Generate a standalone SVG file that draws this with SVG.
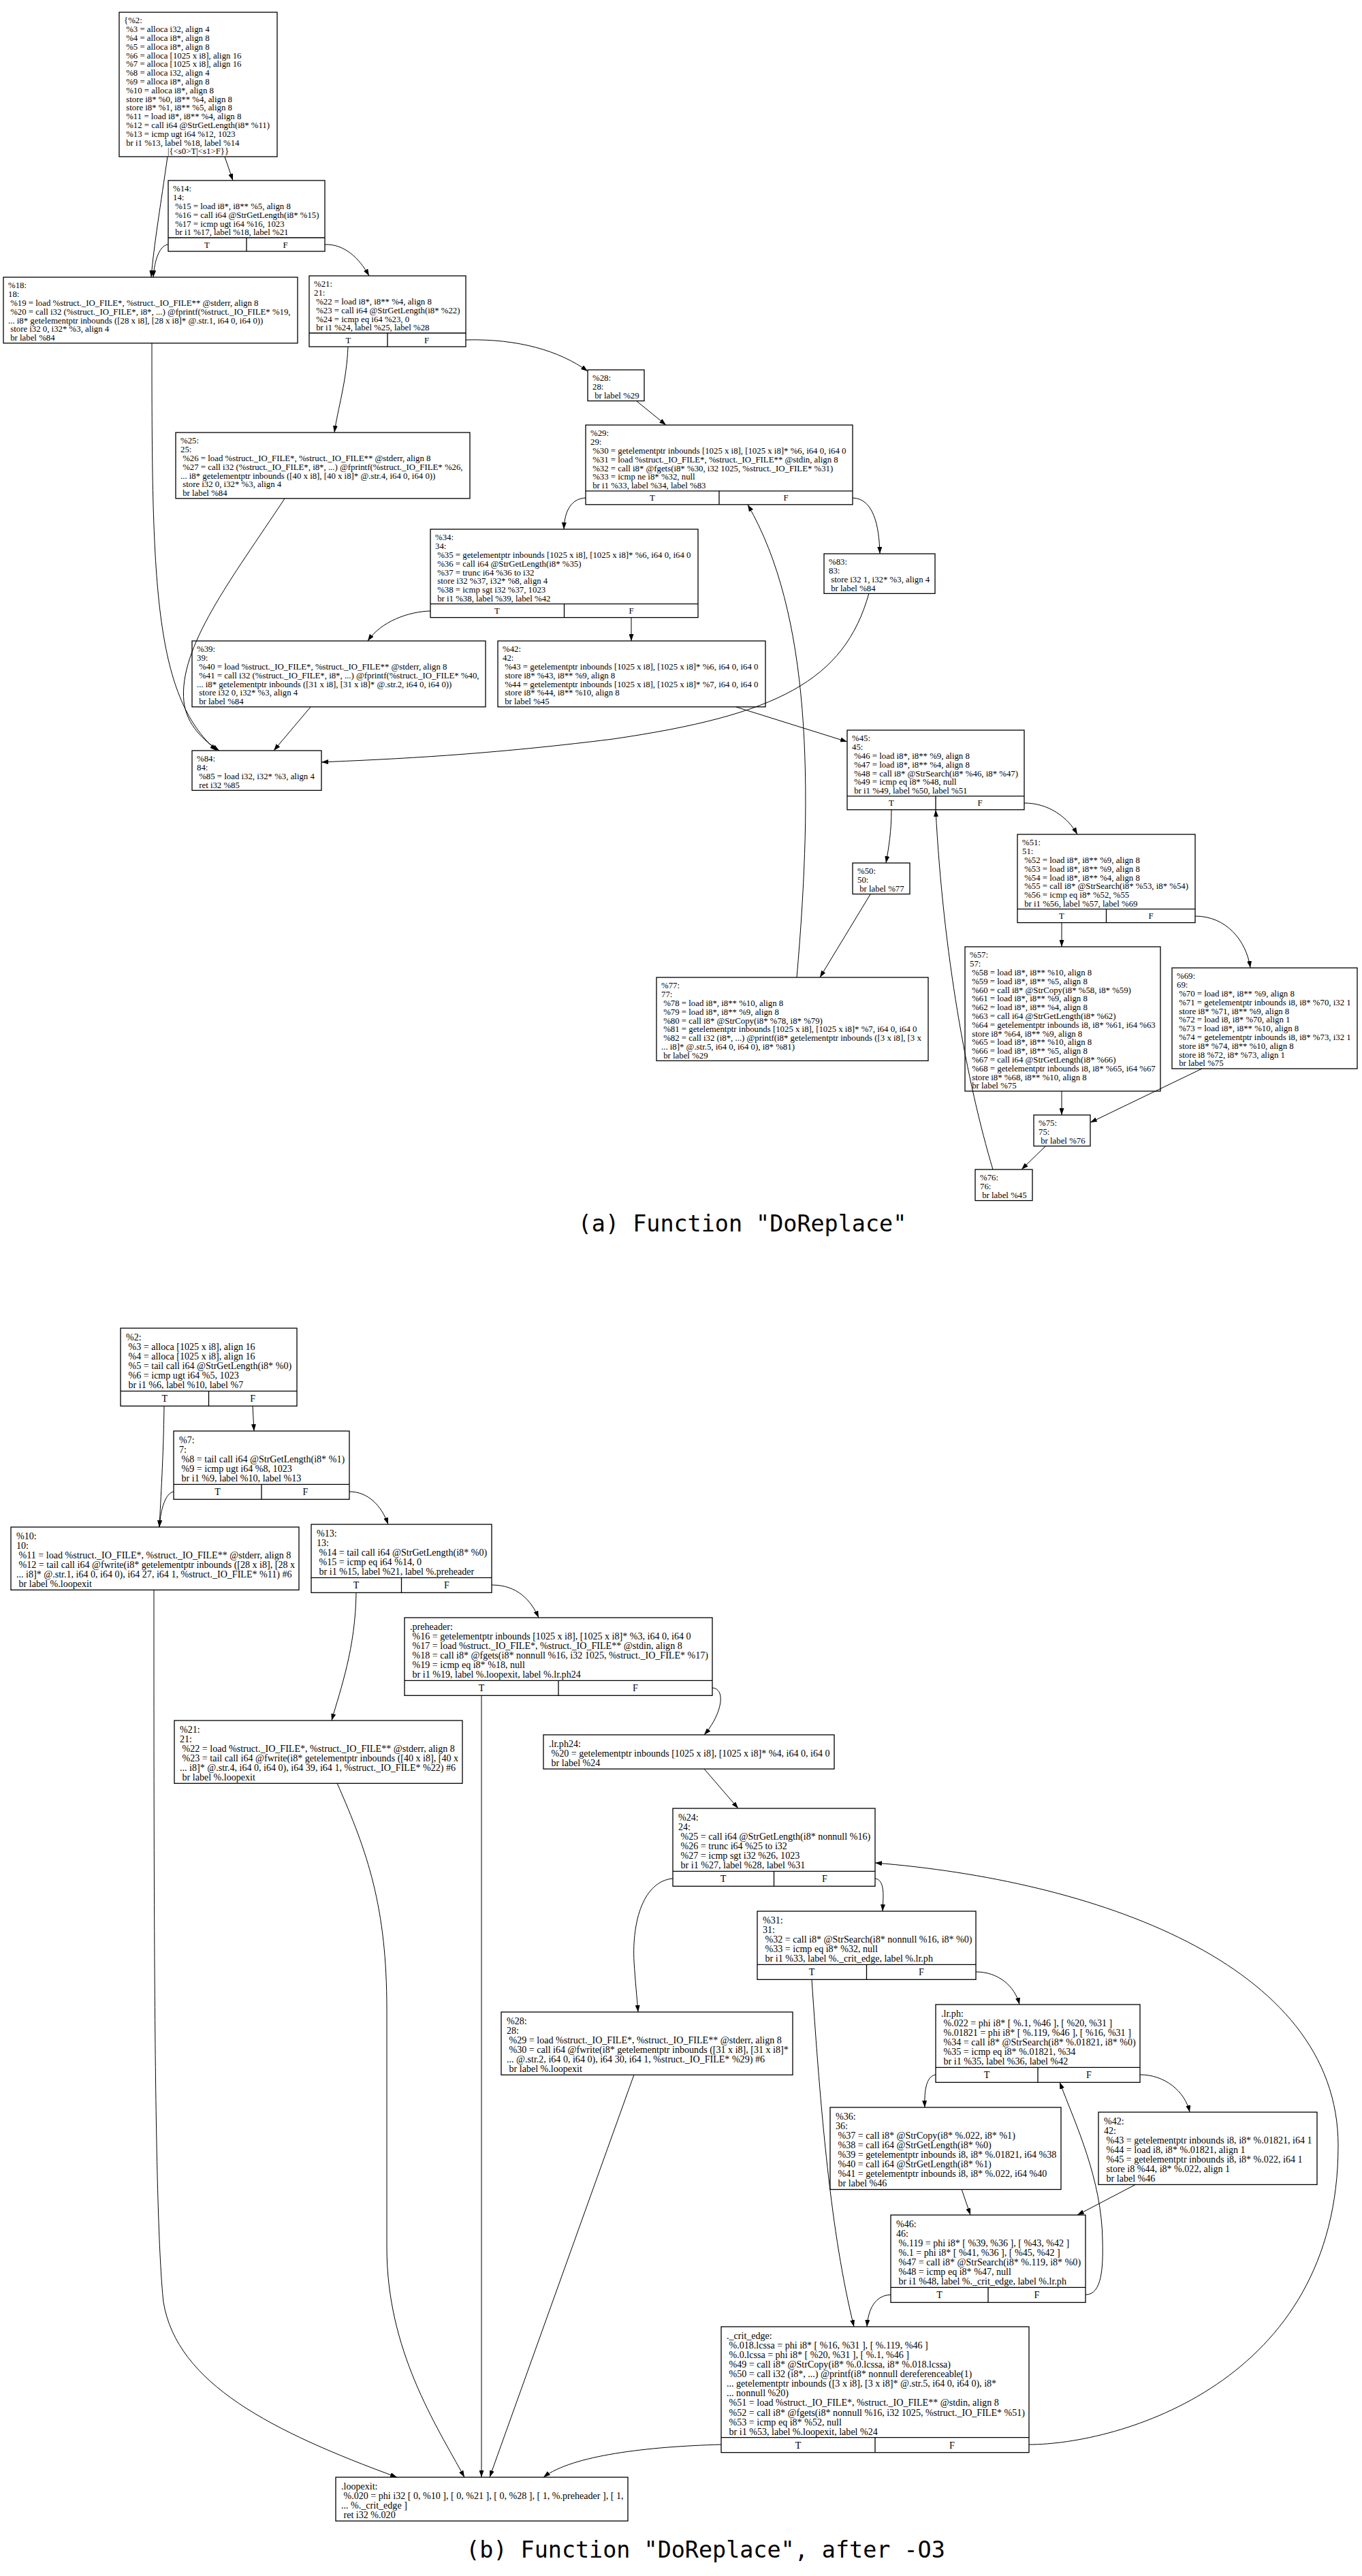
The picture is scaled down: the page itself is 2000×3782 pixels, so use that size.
<svg xmlns="http://www.w3.org/2000/svg" width="2000" height="3782" viewBox="0 0 2000 3782">
<defs>
<style>
.box rect{fill:none;stroke:#000;stroke-width:1.3}
.box line{stroke:#000;stroke-width:1.3}
.ta{font-family:"Liberation Serif","Times New Roman",serif;font-size:12.8px;white-space:pre;fill:#000}
.tb{font-family:"Liberation Serif","Times New Roman",serif;font-size:14.07px;white-space:pre;fill:#000}
.c{text-anchor:middle}
.edges path{fill:none;stroke:#000;stroke-width:1;marker-end:url(#ah)}
.cap{font-family:"DejaVu Sans Mono",monospace;font-size:33.4px;text-anchor:middle;fill:#000}
</style>
<marker id="ah" markerUnits="userSpaceOnUse" markerWidth="10" markerHeight="7" refX="10" refY="3.5" orient="auto" viewBox="0 0 10 7"><path d="M0,0L10,3.5L0,7z" fill="#000"/></marker>
</defs>
<rect width="2000" height="3782" fill="#fff"/>

<g id="graph-a-nodes" class="box">
<g id="a-n2"><rect x="175" y="18" width="232" height="212"/><text class="ta"><tspan x="182" y="34.3">{%2:</tspan><tspan x="182" y="47.1"> %3 = alloca i32, align 4</tspan><tspan x="182" y="59.9"> %4 = alloca i8*, align 8</tspan><tspan x="182" y="72.7"> %5 = alloca i8*, align 8</tspan><tspan x="182" y="85.5"> %6 = alloca [1025 x i8], align 16</tspan><tspan x="182" y="98.3"> %7 = alloca [1025 x i8], align 16</tspan><tspan x="182" y="111.1"> %8 = alloca i32, align 4</tspan><tspan x="182" y="123.9"> %9 = alloca i8*, align 8</tspan><tspan x="182" y="136.7"> %10 = alloca i8*, align 8</tspan><tspan x="182" y="149.5"> store i8* %0, i8** %4, align 8</tspan><tspan x="182" y="162.3"> store i8* %1, i8** %5, align 8</tspan><tspan x="182" y="175.1"> %11 = load i8*, i8** %4, align 8</tspan><tspan x="182" y="187.9"> %12 = call i64 @StrGetLength(i8* %11)</tspan><tspan x="182" y="200.7"> %13 = icmp ugt i64 %12, 1023</tspan><tspan x="182" y="213.5"> br i1 %13, label %18, label %14</tspan><tspan x="291" y="226.3" text-anchor="middle">|{&lt;s0&gt;T|&lt;s1&gt;F}}</tspan></text></g>

<g id="a-n14"><rect x="247" y="265" width="230" height="104"/><line x1="247" y1="349" x2="477" y2="349"/><line x1="362" y1="349" x2="362" y2="369"/><text class="ta"><tspan x="254" y="281.3">%14:</tspan><tspan x="254" y="294.1">14:</tspan><tspan x="254" y="306.9"> %15 = load i8*, i8** %5, align 8</tspan><tspan x="254" y="319.7"> %16 = call i64 @StrGetLength(i8* %15)</tspan><tspan x="254" y="332.5"> %17 = icmp ugt i64 %16, 1023</tspan><tspan x="254" y="345.3"> br i1 %17, label %18, label %21</tspan></text><text class="ta c"><tspan x="304" y="363.5">T</tspan><tspan x="419" y="363.5">F</tspan></text></g>

<g id="a-n18"><rect x="5" y="407" width="432" height="96.8"/><text class="ta"><tspan x="12" y="423.3">%18:</tspan><tspan x="12" y="436.1">18:</tspan><tspan x="12" y="448.9"> %19 = load %struct._IO_FILE*, %struct._IO_FILE** @stderr, align 8</tspan><tspan x="12" y="461.7"> %20 = call i32 (%struct._IO_FILE*, i8*, ...) @fprintf(%struct._IO_FILE* %19,</tspan><tspan x="12" y="474.5">... i8* getelementptr inbounds ([28 x i8], [28 x i8]* @.str.1, i64 0, i64 0))</tspan><tspan x="12" y="487.3"> store i32 0, i32* %3, align 4</tspan><tspan x="12" y="500.1"> br label %84</tspan></text></g>

<g id="a-n21"><rect x="454" y="405" width="230" height="104"/><line x1="454" y1="489" x2="684" y2="489"/><line x1="569" y1="489" x2="569" y2="509"/><text class="ta"><tspan x="461" y="421.3">%21:</tspan><tspan x="461" y="434.1">21:</tspan><tspan x="461" y="446.9"> %22 = load i8*, i8** %4, align 8</tspan><tspan x="461" y="459.7"> %23 = call i64 @StrGetLength(i8* %22)</tspan><tspan x="461" y="472.5"> %24 = icmp eq i64 %23, 0</tspan><tspan x="461" y="485.3"> br i1 %24, label %25, label %28</tspan></text><text class="ta c"><tspan x="511.5" y="503.5">T</tspan><tspan x="626.5" y="503.5">F</tspan></text></g>

<g id="a-n28"><rect x="863" y="543" width="83" height="45.6"/><text class="ta"><tspan x="870" y="559.3">%28:</tspan><tspan x="870" y="572.1">28:</tspan><tspan x="870" y="584.9"> br label %29</tspan></text></g>

<g id="a-n25"><rect x="258" y="635" width="432" height="96.8"/><text class="ta"><tspan x="265" y="651.3">%25:</tspan><tspan x="265" y="664.1">25:</tspan><tspan x="265" y="676.9"> %26 = load %struct._IO_FILE*, %struct._IO_FILE** @stderr, align 8</tspan><tspan x="265" y="689.7"> %27 = call i32 (%struct._IO_FILE*, i8*, ...) @fprintf(%struct._IO_FILE* %26,</tspan><tspan x="265" y="702.5">... i8* getelementptr inbounds ([40 x i8], [40 x i8]* @.str.4, i64 0, i64 0))</tspan><tspan x="265" y="715.3"> store i32 0, i32* %3, align 4</tspan><tspan x="265" y="728.1"> br label %84</tspan></text></g>

<g id="a-n29"><rect x="860" y="624" width="392" height="116.8"/><line x1="860" y1="720.8" x2="1252" y2="720.8"/><line x1="1056" y1="720.8" x2="1056" y2="740.8"/><text class="ta"><tspan x="867" y="640.3">%29:</tspan><tspan x="867" y="653.1">29:</tspan><tspan x="867" y="665.9"> %30 = getelementptr inbounds [1025 x i8], [1025 x i8]* %6, i64 0, i64 0</tspan><tspan x="867" y="678.7"> %31 = load %struct._IO_FILE*, %struct._IO_FILE** @stdin, align 8</tspan><tspan x="867" y="691.5"> %32 = call i8* @fgets(i8* %30, i32 1025, %struct._IO_FILE* %31)</tspan><tspan x="867" y="704.3"> %33 = icmp ne i8* %32, null</tspan><tspan x="867" y="717.1"> br i1 %33, label %34, label %83</tspan></text><text class="ta c"><tspan x="958" y="735.3">T</tspan><tspan x="1154" y="735.3">F</tspan></text></g>

<g id="a-n34"><rect x="632" y="777" width="393" height="129.6"/><line x1="632" y1="886.6" x2="1025" y2="886.6"/><line x1="828.5" y1="886.6" x2="828.5" y2="906.6"/><text class="ta"><tspan x="639" y="793.3">%34:</tspan><tspan x="639" y="806.1">34:</tspan><tspan x="639" y="818.9"> %35 = getelementptr inbounds [1025 x i8], [1025 x i8]* %6, i64 0, i64 0</tspan><tspan x="639" y="831.7"> %36 = call i64 @StrGetLength(i8* %35)</tspan><tspan x="639" y="844.5"> %37 = trunc i64 %36 to i32</tspan><tspan x="639" y="857.3"> store i32 %37, i32* %8, align 4</tspan><tspan x="639" y="870.1"> %38 = icmp sgt i32 %37, 1023</tspan><tspan x="639" y="882.9"> br i1 %38, label %39, label %42</tspan></text><text class="ta c"><tspan x="730" y="901.1">T</tspan><tspan x="927" y="901.1">F</tspan></text></g>

<g id="a-n83"><rect x="1210" y="813" width="163" height="58.4"/><text class="ta"><tspan x="1217" y="829.3">%83:</tspan><tspan x="1217" y="842.1">83:</tspan><tspan x="1217" y="854.9"> store i32 1, i32* %3, align 4</tspan><tspan x="1217" y="867.7"> br label %84</tspan></text></g>

<g id="a-n39"><rect x="282" y="941" width="431" height="96.8"/><text class="ta"><tspan x="289" y="957.3">%39:</tspan><tspan x="289" y="970.1">39:</tspan><tspan x="289" y="982.9"> %40 = load %struct._IO_FILE*, %struct._IO_FILE** @stderr, align 8</tspan><tspan x="289" y="995.7"> %41 = call i32 (%struct._IO_FILE*, i8*, ...) @fprintf(%struct._IO_FILE* %40,</tspan><tspan x="289" y="1008.5">... i8* getelementptr inbounds ([31 x i8], [31 x i8]* @.str.2, i64 0, i64 0))</tspan><tspan x="289" y="1021.3"> store i32 0, i32* %3, align 4</tspan><tspan x="289" y="1034.1"> br label %84</tspan></text></g>

<g id="a-n42"><rect x="731" y="941" width="393" height="96.8"/><text class="ta"><tspan x="738" y="957.3">%42:</tspan><tspan x="738" y="970.1">42:</tspan><tspan x="738" y="982.9"> %43 = getelementptr inbounds [1025 x i8], [1025 x i8]* %6, i64 0, i64 0</tspan><tspan x="738" y="995.7"> store i8* %43, i8** %9, align 8</tspan><tspan x="738" y="1008.5"> %44 = getelementptr inbounds [1025 x i8], [1025 x i8]* %7, i64 0, i64 0</tspan><tspan x="738" y="1021.3"> store i8* %44, i8** %10, align 8</tspan><tspan x="738" y="1034.1"> br label %45</tspan></text></g>

<g id="a-n84"><rect x="282" y="1102" width="190" height="58.4"/><text class="ta"><tspan x="289" y="1118.3">%84:</tspan><tspan x="289" y="1131.1">84:</tspan><tspan x="289" y="1143.9"> %85 = load i32, i32* %3, align 4</tspan><tspan x="289" y="1156.7"> ret i32 %85</tspan></text></g>

<g id="a-n45"><rect x="1244" y="1072" width="260" height="116.8"/><line x1="1244" y1="1168.8" x2="1504" y2="1168.8"/><line x1="1374" y1="1168.8" x2="1374" y2="1188.8"/><text class="ta"><tspan x="1251" y="1088.3">%45:</tspan><tspan x="1251" y="1101.1">45:</tspan><tspan x="1251" y="1113.9"> %46 = load i8*, i8** %9, align 8</tspan><tspan x="1251" y="1126.7"> %47 = load i8*, i8** %4, align 8</tspan><tspan x="1251" y="1139.5"> %48 = call i8* @StrSearch(i8* %46, i8* %47)</tspan><tspan x="1251" y="1152.3"> %49 = icmp eq i8* %48, null</tspan><tspan x="1251" y="1165.1"> br i1 %49, label %50, label %51</tspan></text><text class="ta c"><tspan x="1309" y="1183.3">T</tspan><tspan x="1439" y="1183.3">F</tspan></text></g>

<g id="a-n50"><rect x="1252" y="1267" width="84" height="45.6"/><text class="ta"><tspan x="1259" y="1283.3">%50:</tspan><tspan x="1259" y="1296.1">50:</tspan><tspan x="1259" y="1308.9"> br label %77</tspan></text></g>

<g id="a-n51"><rect x="1494" y="1225" width="261" height="129.6"/><line x1="1494" y1="1334.6" x2="1755" y2="1334.6"/><line x1="1624.5" y1="1334.6" x2="1624.5" y2="1354.6"/><text class="ta"><tspan x="1501" y="1241.3">%51:</tspan><tspan x="1501" y="1254.1">51:</tspan><tspan x="1501" y="1266.9"> %52 = load i8*, i8** %9, align 8</tspan><tspan x="1501" y="1279.7"> %53 = load i8*, i8** %9, align 8</tspan><tspan x="1501" y="1292.5"> %54 = load i8*, i8** %4, align 8</tspan><tspan x="1501" y="1305.3"> %55 = call i8* @StrSearch(i8* %53, i8* %54)</tspan><tspan x="1501" y="1318.1"> %56 = icmp eq i8* %52, %55</tspan><tspan x="1501" y="1330.9"> br i1 %56, label %57, label %69</tspan></text><text class="ta c"><tspan x="1559" y="1349.1">T</tspan><tspan x="1690" y="1349.1">F</tspan></text></g>

<g id="a-n77"><rect x="964" y="1435" width="399" height="122.4"/><text class="ta"><tspan x="971" y="1451.3">%77:</tspan><tspan x="971" y="1464.1">77:</tspan><tspan x="971" y="1476.9"> %78 = load i8*, i8** %10, align 8</tspan><tspan x="971" y="1489.7"> %79 = load i8*, i8** %9, align 8</tspan><tspan x="971" y="1502.5"> %80 = call i8* @StrCopy(i8* %78, i8* %79)</tspan><tspan x="971" y="1515.3"> %81 = getelementptr inbounds [1025 x i8], [1025 x i8]* %7, i64 0, i64 0</tspan><tspan x="971" y="1528.1"> %82 = call i32 (i8*, ...) @printf(i8* getelementptr inbounds ([3 x i8], [3 x</tspan><tspan x="971" y="1540.9">... i8]* @.str.5, i64 0, i64 0), i8* %81)</tspan><tspan x="971" y="1553.7"> br label %29</tspan></text></g>

<g id="a-n57"><rect x="1417" y="1390" width="287" height="212"/><text class="ta"><tspan x="1424" y="1406.3">%57:</tspan><tspan x="1424" y="1419.1">57:</tspan><tspan x="1424" y="1431.9"> %58 = load i8*, i8** %10, align 8</tspan><tspan x="1424" y="1444.7"> %59 = load i8*, i8** %5, align 8</tspan><tspan x="1424" y="1457.5"> %60 = call i8* @StrCopy(i8* %58, i8* %59)</tspan><tspan x="1424" y="1470.3"> %61 = load i8*, i8** %9, align 8</tspan><tspan x="1424" y="1483.1"> %62 = load i8*, i8** %4, align 8</tspan><tspan x="1424" y="1495.9"> %63 = call i64 @StrGetLength(i8* %62)</tspan><tspan x="1424" y="1508.7"> %64 = getelementptr inbounds i8, i8* %61, i64 %63</tspan><tspan x="1424" y="1521.5"> store i8* %64, i8** %9, align 8</tspan><tspan x="1424" y="1534.3"> %65 = load i8*, i8** %10, align 8</tspan><tspan x="1424" y="1547.1"> %66 = load i8*, i8** %5, align 8</tspan><tspan x="1424" y="1559.9"> %67 = call i64 @StrGetLength(i8* %66)</tspan><tspan x="1424" y="1572.7"> %68 = getelementptr inbounds i8, i8* %65, i64 %67</tspan><tspan x="1424" y="1585.5"> store i8* %68, i8** %10, align 8</tspan><tspan x="1424" y="1598.3"> br label %75</tspan></text></g>

<g id="a-n69"><rect x="1721" y="1421" width="272" height="148"/><text class="ta"><tspan x="1728" y="1437.3">%69:</tspan><tspan x="1728" y="1450.1">69:</tspan><tspan x="1728" y="1462.9"> %70 = load i8*, i8** %9, align 8</tspan><tspan x="1728" y="1475.7"> %71 = getelementptr inbounds i8, i8* %70, i32 1</tspan><tspan x="1728" y="1488.5"> store i8* %71, i8** %9, align 8</tspan><tspan x="1728" y="1501.3"> %72 = load i8, i8* %70, align 1</tspan><tspan x="1728" y="1514.1"> %73 = load i8*, i8** %10, align 8</tspan><tspan x="1728" y="1526.9"> %74 = getelementptr inbounds i8, i8* %73, i32 1</tspan><tspan x="1728" y="1539.7"> store i8* %74, i8** %10, align 8</tspan><tspan x="1728" y="1552.5"> store i8 %72, i8* %73, align 1</tspan><tspan x="1728" y="1565.3"> br label %75</tspan></text></g>

<g id="a-n75"><rect x="1518" y="1637" width="83" height="45.6"/><text class="ta"><tspan x="1525" y="1653.3">%75:</tspan><tspan x="1525" y="1666.1">75:</tspan><tspan x="1525" y="1678.9"> br label %76</tspan></text></g>

<g id="a-n76"><rect x="1432" y="1717" width="84" height="45.6"/><text class="ta"><tspan x="1439" y="1733.3">%76:</tspan><tspan x="1439" y="1746.1">76:</tspan><tspan x="1439" y="1758.9"> br label %45</tspan></text></g>
</g>

<g id="graph-a-edges" class="edges">
<path d="M246,230 C236,300 226,360 222,407"/>
<path d="M330,230 L342,265"/>
<path d="M247,359 C235,360 227,380 225,407"/>
<path d="M477,359 C505,358 527,378 542,405"/>
<path d="M511,509 C509,560 496,600 491,635"/>
<path d="M684,499 C760,497 822,515 863,545"/>
<path d="M935,589 L978,624"/>
<path d="M860,731 C840,732 829,748 828,777"/>
<path d="M1252,731 C1282,732 1291,770 1292,813"/>
<path d="M632,897 C600,898 560,912 540,941"/>
<path d="M927,907 L927,941"/>
<path d="M223,504 C223,850 225,1020 318,1102"/>
<path d="M418,732 C340,850 262,950 270,1030 C274,1065 300,1088 322,1102"/>
<path d="M456,1038 L402,1102"/>
<path d="M1276,871 C1240,1000 1140,1050 900,1085 C700,1110 560,1115 472,1119"/>
<path d="M1081,1038 L1244,1089"/>
<path d="M1309,1189 C1309,1220 1305,1245 1301,1267"/>
<path d="M1504,1179 C1540,1179 1568,1200 1582,1225"/>
<path d="M1278,1313 L1204,1435"/>
<path d="M1559,1355 L1559,1390"/>
<path d="M1755,1345 C1800,1345 1830,1380 1836,1421"/>
<path d="M1559,1602 L1559,1637"/>
<path d="M1765,1569 L1601,1648"/>
<path d="M1535,1683 L1500,1717"/>
<path d="M1458,1717 C1420,1590 1385,1400 1374,1189"/>
<path d="M1170,1435 C1195,1150 1190,900 1098,741"/>
</g>

<text id="caption-a" class="cap" x="1090" y="1808">(a) Function "DoReplace"</text>

<g id="graph-b-nodes" class="box">
<g id="b-n2"><rect x="177" y="1950" width="259" height="114.3"/><line x1="177" y1="2042.3" x2="436" y2="2042.3"/><line x1="306.5" y1="2042.3" x2="306.5" y2="2064.3"/><text class="tb"><tspan x="185" y="1967.9">%2:</tspan><tspan x="185" y="1982">&#160;%3 = alloca [1025 x i8], align 16</tspan><tspan x="185" y="1996"> %4 = alloca [1025 x i8], align 16</tspan><tspan x="185" y="2010.1"> %5 = tail call i64 @StrGetLength(i8* %0)</tspan><tspan x="185" y="2024.2"> %6 = icmp ugt i64 %5, 1023</tspan><tspan x="185" y="2038.3"> br i1 %6, label %10, label %7</tspan></text><text class="tb c"><tspan x="241.7" y="2058.3">T</tspan><tspan x="371.2" y="2058.3">F</tspan></text></g>

<g id="b-n7"><rect x="255" y="2101" width="258" height="100.3"/><line x1="255" y1="2179.3" x2="513" y2="2179.3"/><line x1="384" y1="2179.3" x2="384" y2="2201.3"/><text class="tb"><tspan x="263" y="2118.9">%7:</tspan><tspan x="263" y="2133">7:</tspan><tspan x="263" y="2147"> %8 = tail call i64 @StrGetLength(i8* %1)</tspan><tspan x="263" y="2161.1"> %9 = icmp ugt i64 %8, 1023</tspan><tspan x="263" y="2175.2"> br i1 %9, label %10, label %13</tspan></text><text class="tb c"><tspan x="319.5" y="2195.3">T</tspan><tspan x="448.5" y="2195.3">F</tspan></text></g>

<g id="b-n10"><rect x="16" y="2242" width="423" height="92.3"/><text class="tb"><tspan x="24" y="2259.9">%10:</tspan><tspan x="24" y="2274">10:</tspan><tspan x="24" y="2288"> %11 = load %struct._IO_FILE*, %struct._IO_FILE** @stderr, align 8</tspan><tspan x="24" y="2302.1"> %12 = tail call i64 @fwrite(i8* getelementptr inbounds ([28 x i8], [28 x</tspan><tspan x="24" y="2316.2">... i8]* @.str.1, i64 0, i64 0), i64 27, i64 1, %struct._IO_FILE* %11) #6</tspan><tspan x="24" y="2330.3"> br label %.loopexit</tspan></text></g>

<g id="b-n13"><rect x="457" y="2238" width="265" height="100.3"/><line x1="457" y1="2316.3" x2="722" y2="2316.3"/><line x1="589.5" y1="2316.3" x2="589.5" y2="2338.3"/><text class="tb"><tspan x="465" y="2255.9">%13:</tspan><tspan x="465" y="2270">13:</tspan><tspan x="465" y="2284"> %14 = tail call i64 @StrGetLength(i8* %0)</tspan><tspan x="465" y="2298.1"> %15 = icmp eq i64 %14, 0</tspan><tspan x="465" y="2312.2"> br i1 %15, label %21, label %.preheader</tspan></text><text class="tb c"><tspan x="523" y="2332.3">T</tspan><tspan x="656" y="2332.3">F</tspan></text></g>

<g id="b-preheader"><rect x="594" y="2375" width="452" height="114.3"/><line x1="594" y1="2467.3" x2="1046" y2="2467.3"/><line x1="820" y1="2467.3" x2="820" y2="2489.3"/><text class="tb"><tspan x="602" y="2392.9">.preheader:</tspan><tspan x="602" y="2407"> %16 = getelementptr inbounds [1025 x i8], [1025 x i8]* %3, i64 0, i64 0</tspan><tspan x="602" y="2421"> %17 = load %struct._IO_FILE*, %struct._IO_FILE** @stdin, align 8</tspan><tspan x="602" y="2435.1"> %18 = call i8* @fgets(i8* nonnull %16, i32 1025, %struct._IO_FILE* %17)</tspan><tspan x="602" y="2449.2"> %19 = icmp eq i8* %18, null</tspan><tspan x="602" y="2463.3"> br i1 %19, label %.loopexit, label %.lr.ph24</tspan></text><text class="tb c"><tspan x="707" y="2483.3">T</tspan><tspan x="933" y="2483.3">F</tspan></text></g>

<g id="b-n21"><rect x="256" y="2526" width="423" height="92.3"/><text class="tb"><tspan x="264" y="2543.9">%21:</tspan><tspan x="264" y="2558">21:</tspan><tspan x="264" y="2572"> %22 = load %struct._IO_FILE*, %struct._IO_FILE** @stderr, align 8</tspan><tspan x="264" y="2586.1"> %23 = tail call i64 @fwrite(i8* getelementptr inbounds ([40 x i8], [40 x</tspan><tspan x="264" y="2600.2">... i8]* @.str.4, i64 0, i64 0), i64 39, i64 1, %struct._IO_FILE* %22) #6</tspan><tspan x="264" y="2614.3"> br label %.loopexit</tspan></text></g>

<g id="b-lrph24"><rect x="798" y="2547" width="427" height="50.1"/><text class="tb"><tspan x="806" y="2564.9">.lr.ph24:</tspan><tspan x="806" y="2579"> %20 = getelementptr inbounds [1025 x i8], [1025 x i8]* %4, i64 0, i64 0</tspan><tspan x="806" y="2593"> br label %24</tspan></text></g>

<g id="b-n24"><rect x="988" y="2655" width="297" height="114.3"/><line x1="988" y1="2747.3" x2="1285" y2="2747.3"/><line x1="1136.5" y1="2747.3" x2="1136.5" y2="2769.3"/><text class="tb"><tspan x="996" y="2672.9">%24:</tspan><tspan x="996" y="2687">24:</tspan><tspan x="996" y="2701"> %25 = call i64 @StrGetLength(i8* nonnull %16)</tspan><tspan x="996" y="2715.1"> %26 = trunc i64 %25 to i32</tspan><tspan x="996" y="2729.2"> %27 = icmp sgt i32 %26, 1023</tspan><tspan x="996" y="2743.3"> br i1 %27, label %28, label %31</tspan></text><text class="tb c"><tspan x="1062" y="2763.3">T</tspan><tspan x="1211" y="2763.3">F</tspan></text></g>

<g id="b-n31"><rect x="1112" y="2806" width="321" height="100.3"/><line x1="1112" y1="2884.3" x2="1433" y2="2884.3"/><line x1="1272.5" y1="2884.3" x2="1272.5" y2="2906.3"/><text class="tb"><tspan x="1120" y="2823.9">%31:</tspan><tspan x="1120" y="2838">31:</tspan><tspan x="1120" y="2852"> %32 = call i8* @StrSearch(i8* nonnull %16, i8* %0)</tspan><tspan x="1120" y="2866.1"> %33 = icmp eq i8* %32, null</tspan><tspan x="1120" y="2880.2"> br i1 %33, label %._crit_edge, label %.lr.ph</tspan></text><text class="tb c"><tspan x="1192" y="2900.3">T</tspan><tspan x="1353" y="2900.3">F</tspan></text></g>

<g id="b-n28"><rect x="736" y="2954" width="428" height="92.3"/><text class="tb"><tspan x="744" y="2971.9">%28:</tspan><tspan x="744" y="2986">28:</tspan><tspan x="744" y="3000"> %29 = load %struct._IO_FILE*, %struct._IO_FILE** @stderr, align 8</tspan><tspan x="744" y="3014.1"> %30 = call i64 @fwrite(i8* getelementptr inbounds ([31 x i8], [31 x i8]*</tspan><tspan x="744" y="3028.2">... @.str.2, i64 0, i64 0), i64 30, i64 1, %struct._IO_FILE* %29) #6</tspan><tspan x="744" y="3042.3"> br label %.loopexit</tspan></text></g>

<g id="b-lrph"><rect x="1374" y="2943" width="300" height="114.3"/><line x1="1374" y1="3035.3" x2="1674" y2="3035.3"/><line x1="1524" y1="3035.3" x2="1524" y2="3057.3"/><text class="tb"><tspan x="1382" y="2960.9">.lr.ph:</tspan><tspan x="1382" y="2975"> %.022 = phi i8* [ %.1, %46 ], [ %20, %31 ]</tspan><tspan x="1382" y="2989"> %.01821 = phi i8* [ %.119, %46 ], [ %16, %31 ]</tspan><tspan x="1382" y="3003.1"> %34 = call i8* @StrSearch(i8* %.01821, i8* %0)</tspan><tspan x="1382" y="3017.2"> %35 = icmp eq i8* %.01821, %34</tspan><tspan x="1382" y="3031.3"> br i1 %35, label %36, label %42</tspan></text><text class="tb c"><tspan x="1449" y="3051.3">T</tspan><tspan x="1599" y="3051.3">F</tspan></text></g>

<g id="b-n36"><rect x="1219" y="3094" width="339" height="120.5"/><text class="tb"><tspan x="1227" y="3111.9">%36:</tspan><tspan x="1227" y="3126">36:</tspan><tspan x="1227" y="3140"> %37 = call i8* @StrCopy(i8* %.022, i8* %1)</tspan><tspan x="1227" y="3154.1"> %38 = call i64 @StrGetLength(i8* %0)</tspan><tspan x="1227" y="3168.2"> %39 = getelementptr inbounds i8, i8* %.01821, i64 %38</tspan><tspan x="1227" y="3182.3"> %40 = call i64 @StrGetLength(i8* %1)</tspan><tspan x="1227" y="3196.3"> %41 = getelementptr inbounds i8, i8* %.022, i64 %40</tspan><tspan x="1227" y="3210.4"> br label %46</tspan></text></g>

<g id="b-n42"><rect x="1613" y="3101" width="321" height="106.4"/><text class="tb"><tspan x="1621" y="3118.9">%42:</tspan><tspan x="1621" y="3133">42:</tspan><tspan x="1621" y="3147"> %43 = getelementptr inbounds i8, i8* %.01821, i64 1</tspan><tspan x="1621" y="3161.1"> %44 = load i8, i8* %.01821, align 1</tspan><tspan x="1621" y="3175.2"> %45 = getelementptr inbounds i8, i8* %.022, i64 1</tspan><tspan x="1621" y="3189.3"> store i8 %44, i8* %.022, align 1</tspan><tspan x="1621" y="3203.3"> br label %46</tspan></text></g>

<g id="b-n46"><rect x="1308" y="3252" width="286" height="128.4"/><line x1="1308" y1="3358.4" x2="1594" y2="3358.4"/><line x1="1451" y1="3358.4" x2="1451" y2="3380.4"/><text class="tb"><tspan x="1316" y="3269.9">%46:</tspan><tspan x="1316" y="3284">46:</tspan><tspan x="1316" y="3298"> %.119 = phi i8* [ %39, %36 ], [ %43, %42 ]</tspan><tspan x="1316" y="3312.1"> %.1 = phi i8* [ %41, %36 ], [ %45, %42 ]</tspan><tspan x="1316" y="3326.2"> %47 = call i8* @StrSearch(i8* %.119, i8* %0)</tspan><tspan x="1316" y="3340.3"> %48 = icmp eq i8* %47, null</tspan><tspan x="1316" y="3354.3"> br i1 %48, label %._crit_edge, label %.lr.ph</tspan></text><text class="tb c"><tspan x="1379.5" y="3374.4">T</tspan><tspan x="1522.5" y="3374.4">F</tspan></text></g>

<g id="b-crit-edge"><rect x="1059" y="3416" width="452" height="184.7"/><line x1="1059" y1="3578.7" x2="1511" y2="3578.7"/><line x1="1285" y1="3578.7" x2="1285" y2="3600.7"/><text class="tb"><tspan x="1067" y="3433.9">._crit_edge:</tspan><tspan x="1067" y="3448"> %.018.lcssa = phi i8* [ %16, %31 ], [ %.119, %46 ]</tspan><tspan x="1067" y="3462"> %.0.lcssa = phi i8* [ %20, %31 ], [ %.1, %46 ]</tspan><tspan x="1067" y="3476.1"> %49 = call i8* @StrCopy(i8* %.0.lcssa, i8* %.018.lcssa)</tspan><tspan x="1067" y="3490.2"> %50 = call i32 (i8*, ...) @printf(i8* nonnull dereferenceable(1)</tspan><tspan x="1067" y="3504.3">... getelementptr inbounds ([3 x i8], [3 x i8]* @.str.5, i64 0, i64 0), i8*</tspan><tspan x="1067" y="3518.3">... nonnull %20)</tspan><tspan x="1067" y="3532.4"> %51 = load %struct._IO_FILE*, %struct._IO_FILE** @stdin, align 8</tspan><tspan x="1067" y="3546.5"> %52 = call i8* @fgets(i8* nonnull %16, i32 1025, %struct._IO_FILE* %51)</tspan><tspan x="1067" y="3560.5"> %53 = icmp eq i8* %52, null</tspan><tspan x="1067" y="3574.6"> br i1 %53, label %.loopexit, label %24</tspan></text><text class="tb c"><tspan x="1172" y="3594.7">T</tspan><tspan x="1398" y="3594.7">F</tspan></text></g>

<g id="b-loopexit"><rect x="493" y="3637" width="429" height="64.2"/><text class="tb"><tspan x="501" y="3654.9">.loopexit:</tspan><tspan x="501" y="3669"> %.020 = phi i32 [ 0, %10 ], [ 0, %21 ], [ 0, %28 ], [ 1, %.preheader ], [ 1,</tspan><tspan x="501" y="3683">... %._crit_edge ]</tspan><tspan x="501" y="3697.1"> ret i32 %.020</tspan></text></g>
</g>

<g id="graph-b-edges" class="edges">
<path d="M241,2064 C240,2140 236,2200 234,2242"/>
<path d="M371,2064 L373,2101"/>
<path d="M255,2190 C243,2192 236,2215 234,2242"/>
<path d="M513,2190 C540,2190 560,2210 570,2238"/>
<path d="M226,2334 C226,2800 226,3250 240,3380 C260,3500 400,3570 583,3637"/>
<path d="M523,2338 C522,2420 500,2480 487,2526"/>
<path d="M722,2327 C760,2327 780,2350 791,2375"/>
<path d="M707,2489 L707,3637"/>
<path d="M1046,2478 C1068,2480 1058,2520 1034,2547"/>
<path d="M495,2618 C540,2720 568,2800 568,2950 L568,3300 C568,3450 640,3560 682,3637"/>
<path d="M931,3046 L719,3637"/>
<path d="M1034,2597 L1084,2655"/>
<path d="M988,2758 C945,2762 928,2820 931,2880 C933,2910 935,2930 937,2954"/>
<path d="M1285,2758 C1300,2760 1297,2785 1296,2806"/>
<path d="M1192,2906 C1205,3100 1220,3280 1254,3416"/>
<path d="M1433,2895 C1465,2895 1490,2915 1497,2943"/>
<path d="M1374,3046 C1360,3048 1357,3070 1358,3094"/>
<path d="M1674,3046 C1710,3046 1740,3070 1747,3101"/>
<path d="M1412,3214 L1425,3252"/>
<path d="M1668,3207 L1582,3252"/>
<path d="M1594,3369 C1618,3369 1620,3330 1619,3290 C1618,3200 1580,3120 1556,3057"/>
<path d="M1308,3369 C1285,3370 1275,3390 1273,3416"/>
<path d="M1059,3589 C950,3592 840,3605 798,3637"/>
<path d="M1511,3589 C1640,3589 1965,3500 1965,3150 C1965,2880 1600,2760 1285,2735"/>
</g>

<text id="caption-b" class="cap" x="1036" y="3755">(b) Function "DoReplace", after -O3</text>
</svg>
